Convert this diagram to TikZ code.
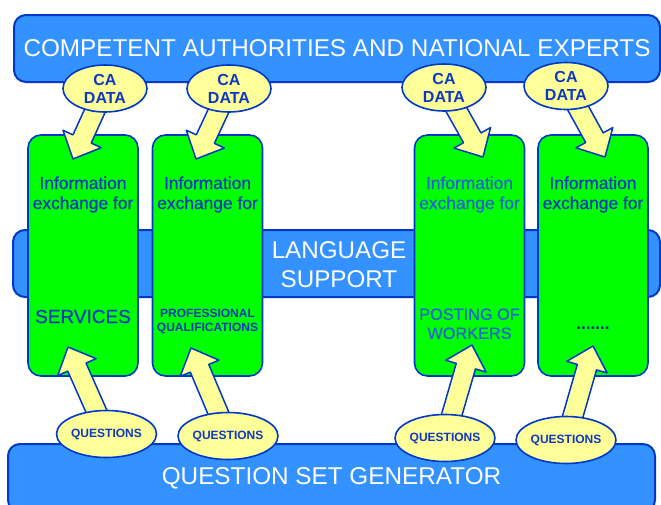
\documentclass[tikz,border=0pt]{standalone}
\usepackage{fontspec}
\setmainfont{Liberation Sans}
\newfontfamily\heavyfont[FakeBold=0.5]{Liberation Sans}
\usetikzlibrary{calc,shapes.geometric}

\definecolor{barblue}{RGB}{51,146,255}
\definecolor{edgeblue}{RGB}{0,56,200}
\definecolor{txtblue}{RGB}{14,56,190}
\definecolor{litblue}{RGB}{38,98,214}
\definecolor{boxgreen}{RGB}{0,255,0}
\definecolor{ovalyellow}{RGB}{255,255,153}

\pgfdeclarelayer{base}
\pgfdeclarelayer{arrows}
\pgfsetlayers{base,arrows,main}

% fat block arrow from #1 (under the oval) to the tip #2
\newcommand{\fatarrow}[2]{%
  \path ($(#2)!22pt!(#1)$) coordinate (hb);
  \draw[bigarrow] ($(#1)!10pt!90:(#2)$) -- ($(hb)!10pt!90:(#2)$) -- ($(hb)!21pt!90:(#2)$) -- (#2)
    -- ($(hb)!21pt!-90:(#2)$) -- ($(hb)!10pt!-90:(#2)$) -- ($(#1)!10pt!-90:(#2)$) -- cycle;
}

\begin{document}
\begin{tikzpicture}[x=1pt,y=-1pt,
  bar/.style={draw=edgeblue, line width=2pt, fill=barblue, rounded corners=12pt, inner sep=0pt,
    text=white, font=\fontsize{24.3}{29}\selectfont, align=center},
  infobox/.style={draw=edgeblue, line width=1.6pt, fill=boxgreen, rounded corners=13pt,
    minimum width=110pt, minimum height=241pt},
  oval/.style={ellipse, draw=edgeblue, line width=1.6pt, fill=ovalyellow, text=txtblue,
    inner sep=0pt, align=center},
  cadata/.style={oval, minimum width=84pt, minimum height=47pt, font=\fontsize{16}{18}\selectfont\bfseries},
  quest/.style={oval, minimum width=83pt, minimum height=47pt, font=\fontsize{12}{14}\selectfont\bfseries},
  head/.style={text=txtblue, align=center, inner sep=0pt, font=\heavyfont\fontsize{17.4}{20}\selectfont},
  bigarrow/.style={draw=edgeblue, line width=1.5pt, fill=ovalyellow, line join=round}]

\clip (0,0) rectangle (661,504);

\begin{pgfonlayer}{base}
\node[bar, minimum width=646pt, minimum height=67pt] (experts) at (337,48.5)
  {COMPETENT AUTHORITIES AND NATIONAL EXPERTS};
\node[bar, minimum width=647pt, minimum height=67pt] (lang) at (336.5,263.5) {};
\node[bar, minimum width=647pt, minimum height=68pt] (qsg) at (331.5,478) {QUESTION SET GENERATOR};

\node[infobox] (box1) at (83,255.5) {};
\node[infobox] (box2) at (207.5,255.5) {};
\node[infobox] (box3) at (469.5,255.5) {};
\node[infobox] (box4) at (593,255.5) {};
\end{pgfonlayer}

\node[text=white, align=center, inner sep=0pt, font=\fontsize{24.2}{29}\selectfont] (langtxt)
  at (339,264.6) {LANGUAGE\\SUPPORT};

% box texts
\node[head] (h1) at (83,194.5) {Information\\exchange for};
\node[head] (h2) at (207.5,194.5) {Information\\exchange for};
\node[head, text=litblue] (h3) at (469.5,194.5) {Information\\exchange for};
\node[head] (h4) at (593,194.5) {Information\\exchange for};

\node[head, font=\heavyfont\fontsize{19}{20}\selectfont] (serv) at (83,316.5) {SERVICES};
\node[head, font=\fontsize{12}{14}\selectfont\bfseries] (prof) at (207.5,321) {PROFESSIONAL\\QUALIFICATIONS};
\node[head, text=litblue, font=\heavyfont\fontsize{16.3}{19}\selectfont] (post) at (469.5,323.7) {POSTING OF\\WORKERS};
\node[head, text=edgeblue!70!black, font=\fontsize{17}{20}\selectfont\bfseries] (etc) at (593,328) {.......};

% ovals
\node[cadata] (cad1) at (105,88.5) {CA\\DATA};
\node[cadata] (cad2) at (229,88.5) {CA\\DATA};
\node[cadata] (cad3) at (444,87.5) {CA\\DATA};
\node[cadata] (cad4) at (566,86) {CA\\DATA};

\node[quest] (q1) at (106.5,434) {QUESTIONS};
\node[quest] (q2) at (228,436) {QUESTIONS};
\node[quest] (q3) at (445,438) {QUESTIONS};
\node[quest] (q4) at (566,440) {QUESTIONS};

% arrow tips
\coordinate (tip1) at (73,159);
\coordinate (tip2) at (196,159);
\coordinate (tip3) at (483,157);
\coordinate (tip4) at (605,157);
\coordinate (qtip1) at (68,347);
\coordinate (qtip2) at (191,348);
\coordinate (qtip3) at (472,345);
\coordinate (qtip4) at (593,346);

\begin{pgfonlayer}{arrows}
\foreach \i in {1,...,4}{
  \fatarrow{cad\i}{tip\i}
  \fatarrow{q\i}{qtip\i}
}
\end{pgfonlayer}

\end{tikzpicture}
\end{document}
